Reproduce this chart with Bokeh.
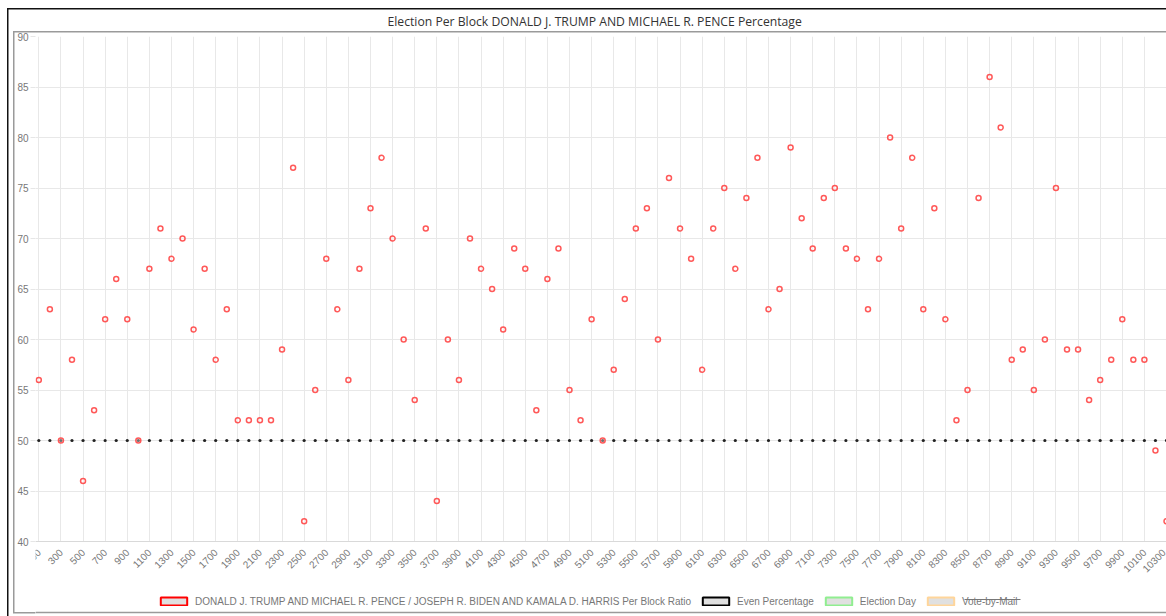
import math
from bokeh.plotting import figure
from bokeh.models import (Range1d, FixedTicker, Legend, LegendItem, BoxAnnotation)
from bokeh.embed import file_html
from bokeh.resources import INLINE

# ---------------- data ----------------
blocks = ["100", "200", "300", "400", "500", "600", "700", "800", "900", "1000",
          "1100", "1200", "1300", "1400", "1500", "1600", "1700", "1800", "1900", "2000",
          "2100", "2200", "2300", "2400", "2500", "2600", "2700", "2800", "2900", "3000",
          "3100", "3200", "3300", "3400", "3500", "3600", "3700", "3800", "3900", "4000",
          "4100", "4200", "4300", "4400", "4500", "4600", "4700", "4800", "4900", "5000",
          "5100", "5200", "5300", "5400", "5500", "5600", "5700", "5800", "5900", "6000",
          "6100", "6200", "6300", "6400", "6500", "6600", "6700", "6800", "6900", "7000",
          "7100", "7200", "7300", "7400", "7500", "7600", "7700", "7800", "7900", "8000",
          "8100", "8200", "8300", "8400", "8500", "8600", "8700", "8800", "8900", "9000",
          "9100", "9200", "9300", "9400", "9500", "9600", "9700", "9800", "9900", "10000",
          "10100", "10200", "10300"]

ratio_pct = [56, 63, 50, 58, 46, 53, 62, 66, 62, 50,
             67, 71, 68, 70, 61, 67, 58, 63, 52, 52,
             52, 52, 59, 77, 42, 55, 68, 63, 56, 67,
             73, 78, 70, 60, 54, 71, 44, 60, 56, 70,
             67, 65, 61, 69, 67, 53, 66, 69, 55, 52,
             62, 50, 57, 64, 71, 73, 60, 76, 71, 68,
             57, 71, 75, 67, 74, 78, 63, 65, 79, 72,
             69, 74, 75, 69, 68, 63, 68, 80, 71, 78,
             63, 73, 62, 52, 55, 74, 86, 81, 58, 59,
             55, 60, 75, 59, 59, 54, 56, 58, 62, 58,
             58, 49, 42]

even_pct = [50, 50, 50, 50, 50, 50, 50, 50, 50, 50,
            50, 50, 50, 50, 50, 50, 50, 50, 50, 50,
            50, 50, 50, 50, 50, 50, 50, 50, 50, 50,
            50, 50, 50, 50, 50, 50, 50, 50, 50, 50,
            50, 50, 50, 50, 50, 50, 50, 50, 50, 50,
            50, 50, 50, 50, 50, 50, 50, 50, 50, 50,
            50, 50, 50, 50, 50, 50, 50, 50, 50, 50,
            50, 50, 50, 50, 50, 50, 50, 50, 50, 50,
            50, 50, 50, 50, 50, 50, 50, 50, 50, 50,
            50, 50, 50, 50, 50, 50, 50, 50, 50, 50,
            50, 50, 50]

y_ticks = [40, 45, 50, 55, 60, 65, 70, 75, 80, 85, 90]

title_text = "Election Per Block DONALD J. TRUMP AND MICHAEL R. PENCE Percentage"
legend_labels = ["DONALD J. TRUMP AND MICHAEL R. PENCE / JOSEPH R. BIDEN AND KAMALA D. HARRIS Per Block Ratio",
                 "Even Percentage", "Election Day", "Vote-by-Mail"]
legend_colors = ["#ff0000", "#000000", "#90ee90", "#ffd59a"]

# ---------------- geometry ----------------
FRAME_L, FRAME_T = 35, 36          # frame origin in page pixels
FRAME_W, FRAME_H = 1131, 580       # frame reaches the bottom of the window
PLOT_H = 505                       # pixel height of the 40..90 span
X0, X1 = -0.3, len(blocks) - 1
Y_TOP = y_ticks[-1]
Y_LO = Y_TOP - FRAME_H * (y_ticks[-1] - y_ticks[0]) / PLOT_H


def y_at(py):
    return Y_TOP - (py - FRAME_T) * (y_ticks[-1] - y_ticks[0]) / PLOT_H


def x_at(px):
    return X0 + (px - FRAME_L) * (X1 - X0) / FRAME_W


idx = list(range(len(blocks)))

p = figure(frame_width=FRAME_W, frame_height=FRAME_H, output_backend="svg", toolbar_location=None,
           x_range=Range1d(X0, X1), y_range=Range1d(Y_LO, Y_TOP),
           min_border_left=FRAME_L, min_border_right=0, min_border_top=FRAME_T, min_border_bottom=0)

p.background_fill_color = "white"
p.border_fill_color = None
p.outline_line_color = None

# card borders (behind the transparent canvas border area)
p.styles = {
    "background-color": "white",
    "background-image": ", ".join(["linear-gradient(#111,#111)"] * 2 +
                                  ["linear-gradient(#9a9a9a,#9a9a9a)"] * 3),
    "background-position": "7px 8px, 7px 8px, 13px 31px, 13px 31px, 13px 612px",
    "background-size": "1.5px 100%, 100% 1.5px, 1.5px 582px, 100% 1.5px, 100% 1.5px",
    "background-repeat": "no-repeat",
}

p.title.text = title_text
p.title.align = "left"
p.title.offset = 352
p.title.text_font = "Open Sans"
p.title.text_font_size = "12.2px"
p.title.text_font_style = "normal"
p.title.text_color = "#333333"
p.title.standoff = 13

# axes
p.xaxis.fixed_location = y_ticks[0]
p.xaxis.ticker = FixedTicker(ticks=idx[::2])
p.xaxis.major_label_overrides = {i: blocks[i] for i in idx[::2]}
p.xaxis.major_label_orientation = math.pi / 4
p.xaxis.axis_line_color = "#d9d9d9"
p.xaxis.major_tick_line_color = None
p.xaxis.minor_tick_line_color = None
p.xaxis.major_label_standoff = 3
p.xaxis.major_label_text_font = "Liberation Sans"
p.xaxis.major_label_text_font_size = "10px"
p.xaxis.major_label_text_color = "#777777"

p.yaxis.ticker = FixedTicker(ticks=y_ticks)
p.yaxis.axis_line_color = None
p.yaxis.major_tick_in = 0
p.yaxis.major_tick_out = 5
p.yaxis.major_tick_line_color = "#e6e6e6"
p.yaxis.minor_tick_line_color = None
p.yaxis.major_label_standoff = 2
p.yaxis.major_label_text_font = "Liberation Sans"
p.yaxis.major_label_text_font_size = "10px"
p.yaxis.major_label_text_color = "#777777"

p.xgrid.grid_line_color = "#e8e8e8"
p.ygrid.grid_line_color = "#e8e8e8"

# hide grid lines below the 40 baseline (tick-label / legend area)
p.add_layout(BoxAnnotation(top=y_ticks[0], fill_color="white", fill_alpha=1,
                           line_color=None, level="underlay"))
# bottom edge of the card inside the frame area
p.add_layout(BoxAnnotation(top=y_at(611.25), bottom=y_at(612.75), fill_color="#9a9a9a",
                           fill_alpha=1, line_color=None, level="overlay"))

# data marks
p.scatter(x=idx, y=even_pct, size=3.2, fill_color="#222222", line_color=None)
p.scatter(x=idx, y=ratio_pct, size=5, line_color="#ff3030", line_alpha=0.8,
          line_width=1.5, fill_color="#ffffff", fill_alpha=0.35)

# legend: proxy swatches placed far outside the visible y range
items = []
for lab, col in zip(legend_labels, legend_colors):
    r = p.quad(left=[0], right=[1], top=[-1000], bottom=[-1001], fill_color="#e0e0e0",
               line_color=col, line_width=2)
    items.append(LegendItem(label=lab, renderers=[r]))

legend = Legend(items=items, orientation="horizontal", location=(122, 9),
                glyph_width=33, glyph_height=10, label_standoff=5, spacing=8,
                label_height=12, label_text_font="Liberation Sans",
                label_text_font_size="10px", label_text_color="#777777",
                border_line_color=None, background_fill_alpha=0,
                margin=0, padding=2)
p.add_layout(legend)

# strike-through for the hidden "Vote-by-Mail" series
p.add_layout(BoxAnnotation(left=x_at(964), right=x_at(1020), top=y_at(598.5), bottom=y_at(599.5),
                           fill_color="#777777", fill_alpha=1, line_color=None, level="overlay"))

open("out.html", "w").write(file_html(p, INLINE))
